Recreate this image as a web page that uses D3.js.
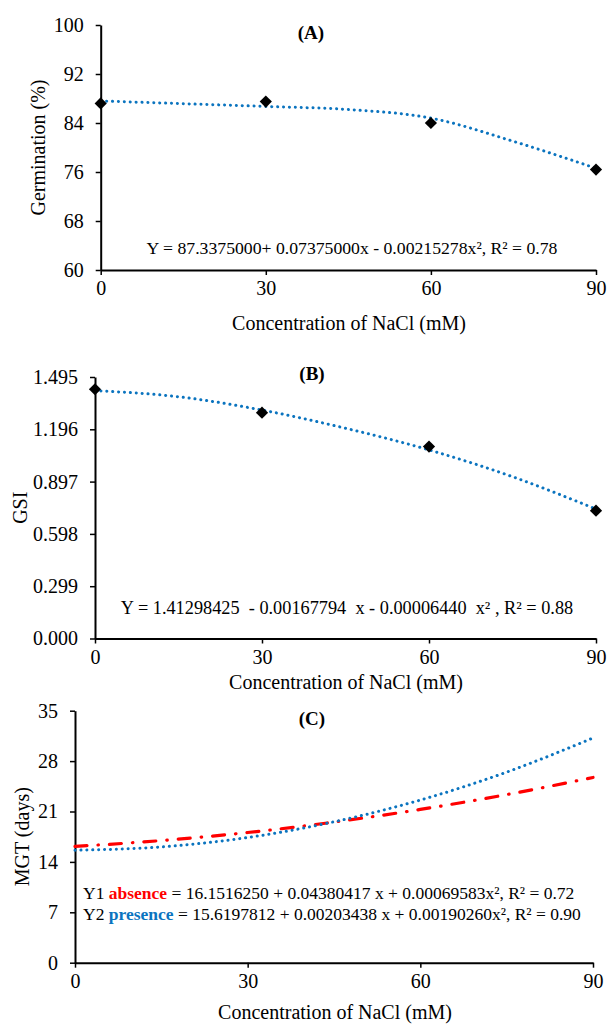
<!DOCTYPE html>
<html>
<head>
<meta charset="utf-8">
<script src="https://cdn.jsdelivr.net/npm/d3@7"></script>
<style>
  body { margin: 0; background: #fff; }
  text { font-family: "Liberation Serif", "Times New Roman", serif; fill: #000; }
</style>
</head>
<body>
<div id="chart"></div>
<script>

// NaCl concentrations (mM) where measurements were taken
var concentrations = [0, 30, 60, 90];
var xTicks         = [0, 30, 60, 90];

// points along the fitted curves
var trendX = [0, 15, 30, 45, 60, 75, 90];

// (A) germination (%)
var germination      = [87.2, 87.5, 84.0, 76.4];
var germinationTrend = [87.6, 87.15, 86.7, 86.2, 84.8, 81.0, 76.6];
var germinationTicks = [60, 68, 76, 84, 92, 100];

// (B) germination speed index
var gsi      = [1.425, 1.291, 1.097, 0.731];
var gsiTrend = [1.417, 1.382, 1.306, 1.202, 1.078, 0.925, 0.740];
var gsiTicks = [0, 0.299, 0.598, 0.897, 1.196, 1.495];

// (C) mean germination time (days), absence / presence
var mgtAbsence  = [16.15, 16.96, 18.08, 19.53, 21.29, 23.35, 25.73];
var mgtPresence = [15.62, 16.08, 17.39, 19.57, 22.59, 26.47, 31.21];
var mgtTicks    = [0, 7, 14, 21, 28, 35];

var BLUE = "#0b74bf";
var RED  = "#ff0000";

var svg = d3.select("#chart").append("svg")
  .attr("width",  607)
  .attr("height", 1025);

svg.append("rect")
  .attr("width",  607)
  .attr("height", 1025)
  .attr("fill",   "#fff");

/*
 * Draws one panel: axes, tick labels, axis titles and panel letter.
 * Returns the x and y scales so the caller can add its own marks.
 */
function drawPanel(p) {

  var x = d3.scaleLinear().domain([0, 90]).range([p.left, p.right]);
  var y = d3.scaleLinear().domain(p.yDomain).range([p.bottom, p.top]);

  var g = svg.append("g");

  var yAxis = g.append("g")
    .attr("transform", "translate(" + p.left + ",0)")
    .call(d3.axisLeft(y)
      .tickValues(p.yTicks)
      .tickFormat(p.yFormat)
      .tickSize(5)
      .tickSizeOuter(0)
      .tickPadding(12));

  var xAxis = g.append("g")
    .attr("transform", "translate(0," + p.bottom + ")")
    .call(d3.axisBottom(x)
      .tickValues(xTicks)
      .tickSize(5)
      .tickSizeOuter(0)
      .tickPadding(6));

  [xAxis, yAxis].forEach(function(ax) {
    ax.select(".domain").attr("stroke", "#000").attr("stroke-width", 2);
    ax.selectAll(".tick line").attr("stroke", "#000").attr("stroke-width", 1.5);
    ax.selectAll(".tick text")
      .attr("font-size",   20)
      .attr("font-family", "Liberation Serif, Times New Roman, serif")
      .attr("fill",        "#000");
  });

  // panel letter
  g.append("text")
    .attr("x",           p.titleX)
    .attr("y",           p.titleY)
    .attr("text-anchor", "middle")
    .attr("font-size",   19)
    .attr("font-weight", "bold")
    .text(p.title);

  // x axis title
  g.append("text")
    .attr("x",           p.xLabelX)
    .attr("y",           p.xLabelY)
    .attr("text-anchor", "middle")
    .attr("font-size",   20)
    .text("Concentration of NaCl (mM)");

  // y axis title
  g.append("text")
    .attr("transform",   "translate(" + p.yLabelX + "," + ((p.top + p.bottom) / 2) + ") rotate(-90)")
    .attr("text-anchor", "middle")
    .attr("font-size",   20)
    .text(p.yLabel);

  return {x: x, y: y, g: g};
}

function trendLine(sc, values) {
  return d3.line()
    .x(function(d, i) { return sc.x(trendX[i]); })
    .y(function(d)    { return sc.y(d); })
    .curve(d3.curveMonotoneX)(values);
}

function drawTrend(sc, values, colour, dash, width) {
  sc.g.append("path")
    .attr("d",                trendLine(sc, values))
    .attr("fill",             "none")
    .attr("stroke",           colour)
    .attr("stroke-width",     width)
    .attr("stroke-linecap",   "round")
    .attr("stroke-dasharray", dash);
}

function drawPoints(sc, values) {
  sc.g.selectAll("path.pt")
    .data(values)
    .enter()
    .append("path")
    .attr("class",     "pt")
    .attr("d",         d3.symbol().type(d3.symbolDiamond2).size(95))
    .attr("transform", function(d, i) {
      return "translate(" + sc.x(concentrations[i]) + "," + sc.y(d) + ")";
    })
    .attr("fill", "#000");
}

var DOTS = "0.1,5.8";

// ---- (A) ----
var a = drawPanel({
  left: 100.7, right: 596, top: 25, bottom: 270,
  yDomain: [60, 100], yTicks: germinationTicks, yFormat: d3.format("d"),
  title: "(A)", titleX: 311, titleY: 39,
  xLabelX: 349, xLabelY: 330,
  yLabel: "Germination (%)", yLabelX: 45
});
drawTrend(a, germinationTrend, BLUE, DOTS, 3);
drawPoints(a, germination);

a.g.append("text")
  .attr("x",           352)
  .attr("y",           254)
  .attr("text-anchor", "middle")
  .attr("font-size",   17.7)
  .text("Y = 87.3375000+ 0.07375000x - 0.00215278x\u00b2, R\u00b2 = 0.78");

// ---- (B) ----
var b = drawPanel({
  left: 95, right: 596, top: 377, bottom: 638.5,
  yDomain: [0, 1.495], yTicks: gsiTicks, yFormat: d3.format(".3f"),
  title: "(B)", titleX: 312, titleY: 380,
  xLabelX: 346, xLabelY: 689,
  yLabel: "GSI", yLabelX: 27
});
drawTrend(b, gsiTrend, BLUE, DOTS, 3);
drawPoints(b, gsi);

b.g.append("text")
  .attr("x",           347)
  .attr("y",           614)
  .attr("text-anchor", "middle")
  .attr("font-size",   18.3)
  .attr("xml:space",   "preserve")
  .text("Y = 1.41298425  - 0.00167794  x - 0.00006440  x\u00b2 , R\u00b2 = 0.88");

// ---- (C) ----
var c = drawPanel({
  left: 75, right: 593, top: 710.7, bottom: 962.7,
  yDomain: [0, 35], yTicks: mgtTicks, yFormat: d3.format("d"),
  title: "(C)", titleX: 312, titleY: 725,
  xLabelX: 335, xLabelY: 1019,
  yLabel: "MGT (days)", yLabelX: 29
});
drawTrend(c, mgtAbsence,  RED,  "12,11,0.5,11", 3.2);
drawTrend(c, mgtPresence, BLUE, DOTS, 3);

var eqLines = [
  {label: "absence",  colour: RED,  rest: " = 16.1516250 + 0.04380417 x + 0.00069583x\u00b2, R\u00b2 = 0.72"},
  {label: "presence", colour: BLUE, rest: " = 15.6197812 + 0.00203438 x + 0.00190260x\u00b2, R\u00b2 = 0.90"}
];

eqLines.forEach(function(eq, i) {
  var t = c.g.append("text")
    .attr("x",         83)
    .attr("y",         899 + i * 21)
    .attr("font-size", 17.5);
  t.append("tspan").text("Y" + (i + 1) + " ");
  t.append("tspan")
    .attr("font-weight", "bold")
    .attr("fill",        eq.colour)
    .text(eq.label);
  t.append("tspan").text(eq.rest);
});

</script>
</body>
</html>
